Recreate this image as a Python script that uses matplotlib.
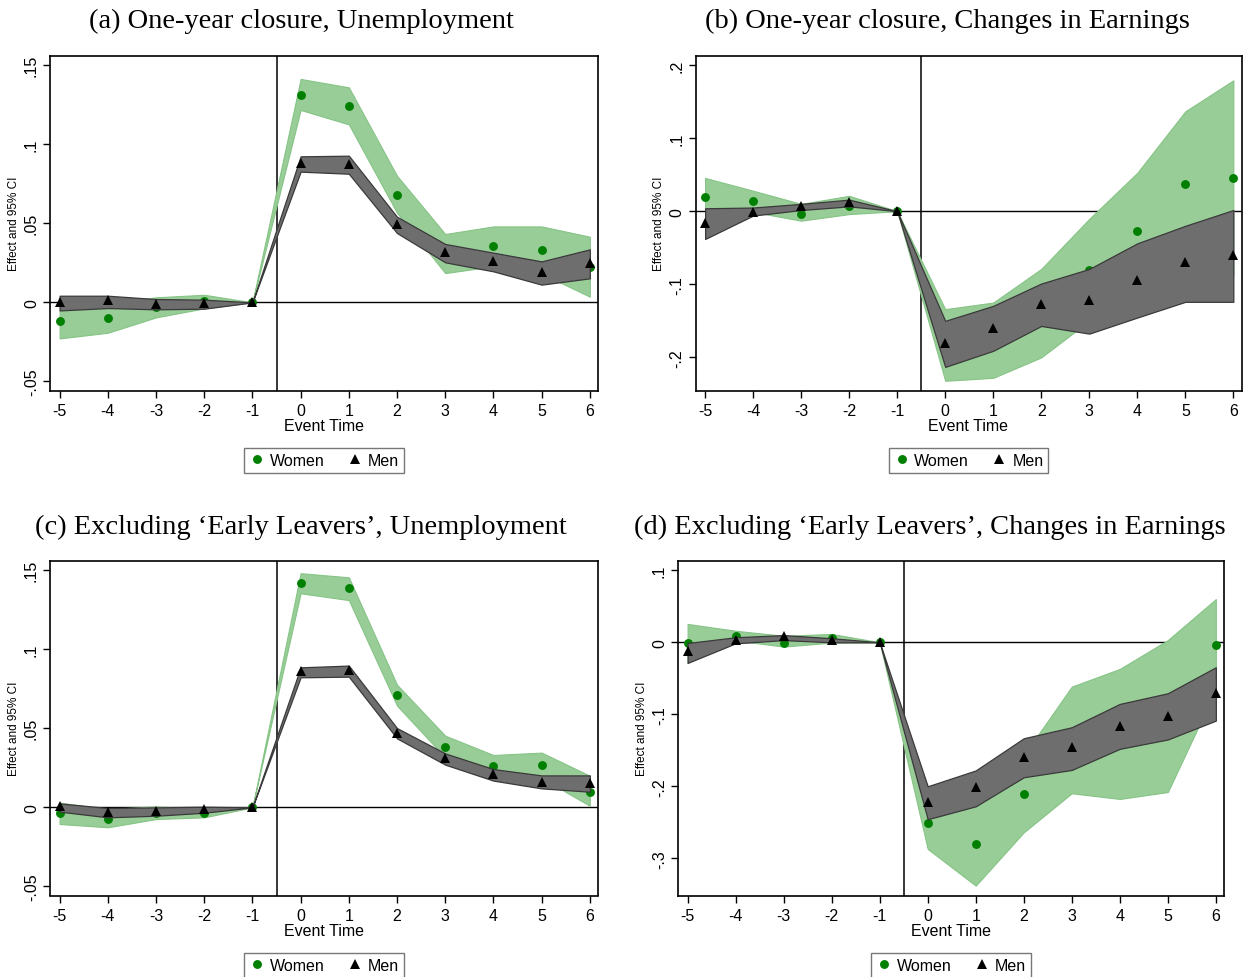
import matplotlib

matplotlib.use("Agg")
import matplotlib.pyplot as plt
from matplotlib.lines import Line2D

plt.rcParams["font.family"] = ["Liberation Sans", "DejaVu Sans"]
plt.rcParams["axes.unicode_minus"] = False

event_time = [-5, -4, -3, -2, -1, 0, 1, 2, 3, 4, 5, 6]

# (a) one-year closure, unemployment
a_women = [-0.012, -0.0101, -0.003, 0.001, 0, 0.131, 0.124, 0.068, 0.031, 0.0354, 0.0331, 0.0221]
a_women_lo = [-0.0228, -0.0192, -0.0095, -0.0038, 0, 0.1216, 0.1125, 0.0566, 0.0185, 0.0228, 0.0182, 0.0036]
a_women_hi = [-0.0012, -0.001, 0.0032, 0.0048, 0, 0.1412, 0.1359, 0.080, 0.0432, 0.048, 0.048, 0.0415]
a_men = [0.0, 0.0015, -0.001, -0.0005, 0, 0.0881, 0.0877, 0.0497, 0.032, 0.0261, 0.0194, 0.0249]
a_men_lo = [-0.0051, -0.0036, -0.0044, -0.004, 0, 0.0826, 0.0813, 0.0438, 0.0253, 0.0196, 0.0112, 0.0152]
a_men_hi = [0.0042, 0.0042, 0.0021, 0.0017, 0, 0.0923, 0.0927, 0.0541, 0.0369, 0.0314, 0.0259, 0.0335]

# (b) one-year closure, changes in earnings
b_women = [0.0199, 0.0135, -0.0034, 0.0075, 0, -0.183, -0.176, -0.14, -0.08, -0.027, 0.0373, 0.0455]
b_women_lo = [-0.0057, -0.001, -0.013, -0.004, 0, -0.232, -0.228, -0.200, -0.15, -0.107, -0.062, -0.088]
b_women_hi = [0.0455, 0.028, 0.010, 0.021, 0, -0.134, -0.125, -0.079, -0.0105, 0.0525, 0.1366, 0.179]
b_men = [-0.0162, -0.001, 0.0066, 0.012, 0, -0.180, -0.1594, -0.127, -0.122, -0.094, -0.070, -0.060]
b_men_lo = [-0.038, -0.006, 0.0016, 0.0066, 0, -0.213, -0.191, -0.157, -0.1675, -0.1455, -0.124, -0.124]
b_men_hi = [0.004, 0.005, 0.010, 0.0158, 0, -0.150, -0.1295, -0.099, -0.079, -0.044, -0.020, 0.0016]

# (c) excluding early leavers, unemployment
c_women = [-0.0036, -0.0074, -0.0036, -0.0038, 0, 0.1416, 0.1384, 0.0708, 0.0383, 0.0261, 0.0265, 0.0099]
c_women_lo = [-0.0105, -0.0126, -0.0074, -0.0063, 0, 0.1353, 0.131, 0.0643, 0.0316, 0.0194, 0.0185, 0.001]
c_women_hi = [0.003, -0.001, 0.0006, -0.001, 0, 0.148, 0.1454, 0.0775, 0.0453, 0.0331, 0.0346, 0.020]
c_men = [0.0006, -0.003, -0.0025, -0.0008, 0, 0.086, 0.0868, 0.0472, 0.031, 0.0211, 0.0162, 0.0152]
c_men_lo = [-0.0027, -0.0063, -0.0053, -0.0034, 0, 0.0822, 0.0826, 0.0436, 0.027, 0.0169, 0.012, 0.0099]
c_men_hi = [0.0025, -0.0004, 0.0, 0.0004, 0, 0.0885, 0.0896, 0.0501, 0.0341, 0.0242, 0.0202, 0.0202]

# (d) excluding early leavers, changes in earnings
d_women = [-0.0014, 0.0093, -0.0005, 0.0056, 0, -0.2505, -0.2806, -0.2106, -0.136, -0.127, -0.1025, -0.0032]
d_women_lo = [-0.0284, 0.0026, -0.006, -0.0004, 0, -0.287, -0.338, -0.264, -0.2097, -0.2176, -0.208, -0.066]
d_women_hi = [0.0255, 0.016, 0.009, 0.0116, 0, -0.214, -0.223, -0.157, -0.0616, -0.037, 0.003, 0.060]
d_men = [-0.0125, 0.0032, 0.0088, 0.0032, 0, -0.2213, -0.2014, -0.1597, -0.1458, -0.1162, -0.1023, -0.0699]
d_men_lo = [-0.0287, -0.0014, 0.003, 0.0, 0, -0.2458, -0.2278, -0.1875, -0.1773, -0.148, -0.135, -0.1088]
d_men_hi = [-0.001, 0.007, 0.010, 0.0056, 0, -0.200, -0.178, -0.1333, -0.118, -0.0856, -0.0708, -0.0347]

titles = ["(a) One-year closure, Unemployment",
          "(b) One-year closure, Changes in Earnings",
          "(c) Excluding \u2018Early Leavers\u2019, Unemployment",
          "(d) Excluding \u2018Early Leavers\u2019, Changes in Earnings"]

unemp_ticks = [-0.05, 0, 0.05, 0.1, 0.15]
unemp_labels = ["-.05", "0", ".05", ".1", ".15"]
earn_b_ticks = [-0.2, -0.1, 0, 0.1, 0.2]
earn_b_labels = ["-.2", "-.1", "0", ".1", ".2"]
earn_d_ticks = [-0.3, -0.2, -0.1, 0, 0.1]
earn_d_labels = ["-.3", "-.2", "-.1", "0", ".1"]

GREEN_FILL = "#98cd98"
GREEN_EDGE = "#86c486"
GREEN_DOT = "#008000"
GREY_FILL = "#6e6e6e"
GREY_EDGE = "#3a3a3a"


def panel(ax, women, w_lo, w_hi, men, m_lo, m_hi, ylim, ticks, labels):
    # women band + points first, men band drawn over them, triangles on top
    ax.fill_between(event_time, w_lo, w_hi, facecolor=GREEN_FILL, edgecolor=GREEN_EDGE, lw=0.8, zorder=2)
    ax.plot(event_time, women, "o", color=GREEN_DOT, ms=6.4, mew=0, zorder=3)
    ax.fill_between(event_time, m_lo, m_hi, facecolor=GREY_FILL, edgecolor=GREY_EDGE, lw=0.9, zorder=4)
    ax.plot(event_time, men, "^", color="black", ms=7.2, mew=0, zorder=5)
    ax.axvline(-0.5, color="black", lw=1.1, zorder=1)
    ax.axhline(0, color="black", lw=1.0, zorder=1)
    ax.set_xlim(-5.2, 6.17)
    ax.set_ylim(*ylim)
    ax.set_xticks(event_time)
    ax.set_yticks(ticks)
    ax.set_yticklabels(labels, rotation=90, va="center")
    ax.tick_params(direction="out", length=5, width=1, labelsize=11.5, pad=4)
    ax.tick_params(axis="y", pad=3)
    for s in ax.spines.values():
        s.set_linewidth(1.2)
    ax.set_xlabel("Event Time", fontsize=11.5, labelpad=0)
    ax.set_ylabel("Effect and 95% CI", fontsize=8.5, labelpad=3)
    handles = [Line2D([], [], ls="", marker="o", color=GREEN_DOT, ms=6.4, mew=0),
               Line2D([], [], ls="", marker="^", color="black", ms=7.2, mew=0)]
    leg = ax.legend(handles, ["Women", "Men"], loc="upper center", bbox_to_anchor=(0.5, -0.148),
                    ncol=2, fontsize=11.5, frameon=True, fancybox=False, handletextpad=0.3,
                    columnspacing=1.4, borderpad=0.3, handlelength=1.0)
    leg.get_frame().set_edgecolor("#555555")
    leg.get_frame().set_linewidth(1.0)


W, H = 1247, 978
fig = plt.figure(figsize=(W / 100, H / 100), dpi=100)

ax_a = fig.add_axes([50 / W, 1 - 391.5 / H, 548 / W, 334.5 / H])
ax_b = fig.add_axes([695.5 / W, 1 - 391.5 / H, 546 / W, 334.5 / H])
ax_c = fig.add_axes([50 / W, 1 - 896.5 / H, 548 / W, 334.5 / H])
ax_d = fig.add_axes([678 / W, 1 - 896.5 / H, 546 / W, 334.5 / H])

panel(ax_a, a_women, a_women_lo, a_women_hi, a_men, a_men_lo, a_men_hi,
      (-0.0557, 0.1557), unemp_ticks, unemp_labels)
panel(ax_b, b_women, b_women_lo, b_women_hi, b_men, b_men_lo, b_men_hi,
      (-0.2453, 0.2123), earn_b_ticks, earn_b_labels)
panel(ax_c, c_women, c_women_lo, c_women_hi, c_men, c_men_lo, c_men_hi,
      (-0.0557, 0.1557), unemp_ticks, unemp_labels)
panel(ax_d, d_women, d_women_lo, d_women_hi, d_men, d_men_lo, d_men_hi,
      (-0.3517, 0.1129), earn_d_ticks, earn_d_labels)

title_pos = [(301, 21), (947, 21), (301, 527), (930, 527)]
for t, (x, y) in zip(titles, title_pos):
    fig.text(x / W, 1 - y / H, t, ha="center", va="center", fontsize=20.5,
             family=["Liberation Serif", "DejaVu Serif"])

fig.savefig("out.png", dpi=100)
